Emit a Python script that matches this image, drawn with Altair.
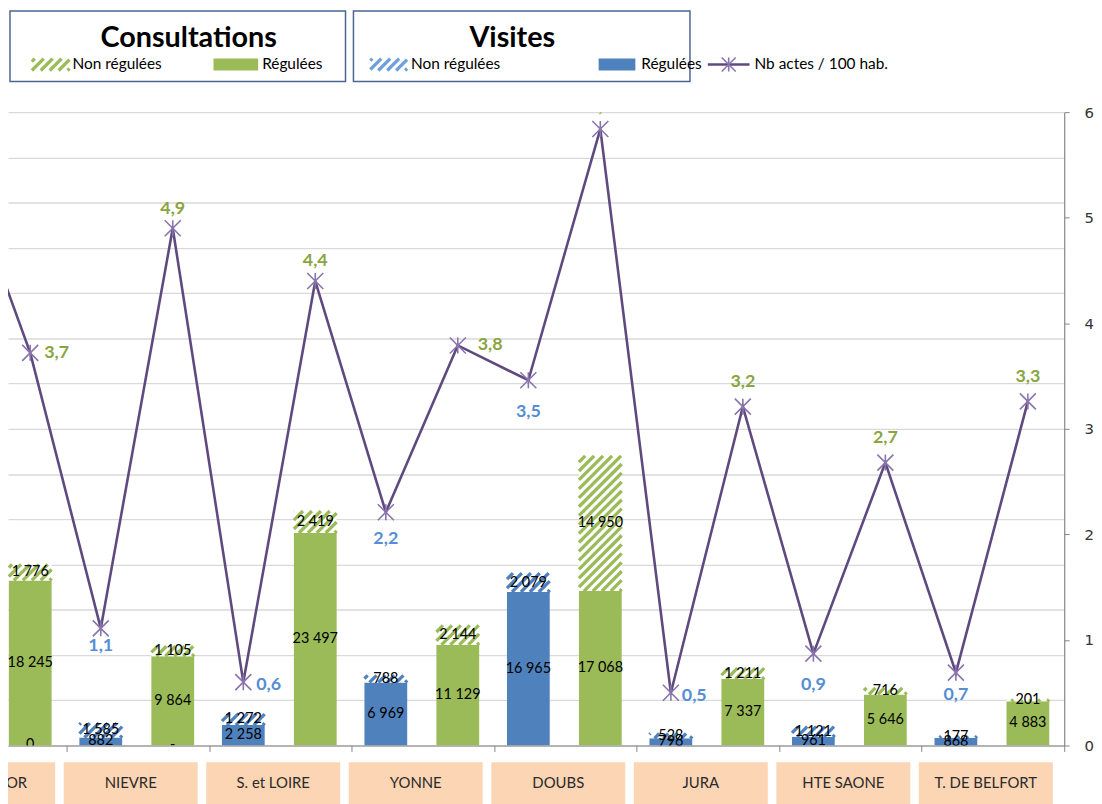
import altair as alt
import pandas as pd

# ---------------- data ----------------
categories = ["CÔTE D'OR", "NIEVRE", "S. et LOIRE", "YONNE", "DOUBS", "JURA", "HTE SAONE", "T. DE BELFORT"]
visites_regulees = [9500, 882, 2258, 6969, 16965, 796, 961, 868]
visites_non_regulees = [1200, 1585, 1272, 788, 2079, 528, 1121, 177]
consult_regulees = [18245, 9864, 23497, 11129, 17068, 7337, 5646, 4883]
consult_non_regulees = [1776, 1105, 2419, 2144, 14950, 1211, 716, 201]
actes_visites = [5.60, 1.11, 0.60, 2.21, 3.46, 0.50, 0.87, 0.69]
actes_consult = [3.72, 4.90, 4.40, 3.79, 5.84, 3.21, 2.68, 3.26]
empty_slot_labels = ["0", "-", "", "", "", "", "", ""]
right_axis_ticks = [0, 1, 2, 3, 4, 5, 6]
bar_grid_step = 5000
bar_max = 70000

# ---------------- layout / style ----------------
W, H = 1064, 638
X_MIN, X_MAX = 0.089, 7.5
OFF_V, OFF_C, BAR_W = -0.26, 0.245, 0.30
PX_X = W / (X_MAX - X_MIN)
PX_Y = H / bar_max

GREEN = "#9BBB59"
BLUE = "#4F81BD"
LINE = "#5F4A80"
MARKER = "#8A74AD"
LBL_BLUE = "#558ED5"
LBL_GREEN = "#8AA440"
PEACH = "#FCD5B4"
GRID = "#D9D9D9"
AXIS = "#868686"
BOXLINE = "#4A6591"
FONT = "Lato"

LABEL_OFFSETS = {
    ("V", 0): (0, 22, "center"), ("C", 0): (14, 0, "left"),
    ("V", 1): (0, 18, "center"), ("C", 1): (0, -19, "center"),
    ("V", 2): (13, 3, "left"), ("C", 2): (0, -20, "center"),
    ("V", 3): (0, 27, "center"), ("C", 3): (20, 0, "left"),
    ("V", 4): (0, 32, "center"), ("C", 4): (0, -22, "center"),
    ("V", 5): (11, 3, "left"), ("C", 5): (0, -25, "center"),
    ("V", 6): (0, 32, "center"), ("C", 6): (0, -25, "center"),
    ("V", 7): (0, 23, "center"), ("C", 7): (0, -25, "center"),
}


def fmt_int(v):
    return f"{v:,}".replace(",", " ")


def hatch_lines(x0, x1, y0, y1, period=9.0):
    w = (x1 - x0) * PX_X
    h = (y1 - y0) * PX_Y
    out = []
    c = -w + 2.0
    while c < h:
        u0 = max(0.0, -c)
        u1 = min(w, h - c)
        if u1 > u0:
            out.append((x0 + u0 / PX_X, x0 + u1 / PX_X, y0 + (u0 + c) / PX_Y, y0 + (u1 + c) / PX_Y))
        c += period
    return out


# ---------------- tables ----------------
bar_rows, hatch_rows = [], []
for k, cat in enumerate(categories):
    for kind, off, reg, non, col in [
        ("V", OFF_V, visites_regulees[k], visites_non_regulees[k], BLUE),
        ("C", OFF_C, consult_regulees[k], consult_non_regulees[k], GREEN),
    ]:
        xc = k + off
        x0, x1 = xc - BAR_W / 2, xc + BAR_W / 2
        bar_rows.append(dict(cat=cat, kind=kind, xc=xc, x0=x0, x1=x1, reg=reg, tot=reg + non, zero=0,
                             reg_mid=reg / 2, non_mid=reg + non / 2,
                             reg_lbl=fmt_int(reg), non_lbl=fmt_int(non), color=col))
        for (a, b, c, d) in hatch_lines(x0, x1, reg, reg + non):
            hatch_rows.append(dict(kind=kind, hx0=a, hx1=b, hy0=c, hy1=d))
bars = pd.DataFrame(bar_rows)
hatch = pd.DataFrame(hatch_rows)

cat_df = pd.DataFrame({"cat": categories, "k": list(range(len(categories)))})
cat_df["bx0"] = cat_df["k"] - 0.52
cat_df["bx1"] = cat_df["k"] + 0.42
cat_df["bxc"] = cat_df["k"] - 0.05

empty_df = pd.DataFrame({"lbl": empty_slot_labels, "x": [k + OFF_C for k in range(len(categories))], "y": 0})
empty_df = empty_df[empty_df["lbl"] != ""]

line_rows = []
for k in range(len(categories)):
    line_rows.append(dict(x=k + OFF_V, v=actes_visites[k], kind="V", k=k))
    line_rows.append(dict(x=k + OFF_C, v=actes_consult[k], kind="C", k=k))
line_df = pd.DataFrame(line_rows)
line_df["lbl"] = line_df["v"].map(lambda v: f"{v:.1f}".replace(".", ","))

xscale = alt.Scale(domain=[X_MIN, X_MAX], nice=False, zero=False)
yscale_bar = alt.Scale(domain=[0, bar_max], nice=False)
yscale_line = alt.Scale(domain=[0, 6], nice=False)

x_axis = alt.Axis(values=[k + 0.5 for k in range(len(categories))], labels=False, tickSize=6,
                  tickColor=AXIS, domainColor=AXIS, domainWidth=1.2, grid=False, title=None)
y_bar_axis = alt.Axis(values=list(range(0, bar_max + 1, bar_grid_step)), labels=False, ticks=False,
                      domain=False, grid=True, gridColor=GRID, gridWidth=1.3, title=None)
y_line_axis = alt.Axis(orient="right", values=right_axis_ticks, grid=False, tickSize=5, labelFont="DejaVu Sans",
                       labelFontSize=15, labelColor="#333333", domainColor=AXIS, domainWidth=1.2,
                       tickColor=AXIS, labelPadding=15, title=None)


def X(field):
    return alt.X(field, scale=xscale, axis=x_axis)


def YB(field):
    return alt.Y(field, scale=yscale_bar, axis=y_bar_axis)


def YL(field):
    return alt.Y(field, scale=yscale_line, axis=y_line_axis)


# ---------------- bar group ----------------
base_bars = alt.Chart(bars)
reg_bars = base_bars.mark_rect(clip=True).encode(
    x=X("x0:Q"), x2="x1:Q", y=YB("reg:Q"), y2="zero:Q",
    color=alt.Color("color:N", scale=None),
)
non_bg = base_bars.mark_rect(clip=True, color="white").encode(
    x=X("x0:Q"), x2="x1:Q", y=YB("tot:Q"), y2="reg:Q",
)
hatch_layer = alt.Chart(hatch).mark_rule(clip=True, strokeWidth=3.3).encode(
    x=X("hx0:Q"), x2="hx1:Q", y=YB("hy0:Q"), y2="hy1:Q",
    color=alt.Color("kind:N", scale=alt.Scale(domain=["V", "C"], range=[BLUE, GREEN]), legend=None),
)
reg_text = base_bars.mark_text(clip=True, font=FONT, fontSize=14.5, color="black", baseline="middle").encode(
    x=X("xc:Q"), y=YB("reg_mid:Q"), text="reg_lbl:N",
)
non_text = base_bars.mark_text(clip=True, font=FONT, fontSize=14.5, color="black", baseline="middle").encode(
    x=X("xc:Q"), y=YB("non_mid:Q"), text="non_lbl:N",
)
empty_text = alt.Chart(empty_df).mark_text(clip=True, font=FONT, fontSize=14.5, color="black",
                                           baseline="middle").encode(
    x=X("x:Q"), y=YB("y:Q"), text="lbl:N",
)
cat_boxes = alt.Chart(cat_df).mark_rect(color=PEACH).encode(
    x=X("bx0:Q"), x2="bx1:Q", y=alt.value(H + 17), y2=alt.value(H + 70),
)
cat_text = alt.Chart(cat_df).mark_text(font=FONT, fontSize=15, color="#2A2A2A", baseline="middle").encode(
    x=X("bxc:Q"), y=alt.value(H + 38), text="cat:N",
)
bar_group = alt.layer(reg_bars, cat_boxes, cat_text, non_bg, hatch_layer, reg_text, non_text, empty_text)

# ---------------- line group ----------------
ASTERISK = "M-1,-1L1,1M-1,1L1,-1M0,-1L0,1"
line_layer = alt.Chart(line_df).mark_line(clip=True, color=LINE, strokeWidth=2.6).encode(
    x=X("x:Q"), y=YL("v:Q"), order="x:Q",
)
pts = alt.Chart(line_df).mark_point(clip=True, shape=ASTERISK, size=260, filled=False, color=MARKER,
                                    strokeWidth=1.6, opacity=1).encode(
    x=X("x:Q"), y=YL("v:Q"),
)
lbl_layers = []
for (kind, k), (dx, dy, al) in LABEL_OFFSETS.items():
    lbl_layers.append(
        alt.Chart(line_df).transform_filter(
            (alt.datum.kind == kind) & (alt.datum.k == k)
        ).mark_text(clip=True, font=FONT, fontSize=18, fontWeight="bold", dx=dx, dy=dy, align=al,
                    baseline="middle", color=LBL_BLUE if kind == "V" else LBL_GREEN).encode(
            x=X("x:Q"), y=YL("v:Q"), text="lbl:N",
        )
    )
line_group = alt.layer(line_layer, pts, *lbl_layers)

# ---------------- legend (decoration) ----------------
dummy = pd.DataFrame({"d": [0]})


def d_rect(x, x2, y, y2, **kw):
    return alt.Chart(dummy).mark_rect(**kw).encode(x=alt.value(x), x2=alt.value(x2), y=alt.value(y), y2=alt.value(y2))


def d_text(txt, x, y, **kw):
    return alt.Chart(dummy).mark_text(text=txt, baseline="middle", **kw).encode(x=alt.value(x), y=alt.value(y))


def d_hatch(x0, x1, y0, y1, color, period=9.0):
    w, h = x1 - x0, y1 - y0
    out = []
    c = -w + 2.0
    while c < h:
        u0, u1 = max(0.0, -c), min(w, h - c)
        if u1 > u0:
            out.append(alt.Chart(dummy).mark_rule(color=color, strokeWidth=3.3).encode(
                x=alt.value(x0 + u0), x2=alt.value(x0 + u1),
                y=alt.value(y1 - (u0 + c)), y2=alt.value(y1 - (u1 + c))))
        c += period
    return out


legend_layers = [
    d_rect(2, 340, -102, -31, fill="white", stroke=BOXLINE, strokeWidth=1.5),
    d_rect(348, 687, -102, -31, fill="white", stroke=BOXLINE, strokeWidth=1.5),
    d_text("Consultations", 182, -75, font=FONT, fontSize=29, fontWeight="bold", color="black", align="center"),
    d_text("Visites", 508, -75, font=FONT, fontSize=29, fontWeight="bold", color="black", align="center"),
    *d_hatch(24, 62, -54, -42, GREEN),
    d_text("Non régulées", 65, -48, font=FONT, fontSize=15.5, color="black", align="left"),
    d_rect(207, 252, -54, -42, fill=GREEN),
    d_text("Régulées", 256, -48, font=FONT, fontSize=15.5, color="black", align="left"),
    *d_hatch(365, 402, -54, -42, "#6FA0DC"),
    d_text("Non régulées", 406, -48, font=FONT, fontSize=15.5, color="black", align="left"),
    d_rect(595, 632, -54, -42, fill=BLUE),
    d_text("Régulées", 638, -48, font=FONT, fontSize=15.5, color="black", align="left"),
    alt.Chart(dummy).mark_rule(color=LINE, strokeWidth=2.6).encode(
        x=alt.value(705), x2=alt.value(747), y=alt.value(-48)),
    alt.Chart(dummy).mark_point(shape=ASTERISK, size=200, filled=False, color=MARKER, strokeWidth=1.6,
                                opacity=1).encode(x=alt.value(726), y=alt.value(-48)),
    d_text("Nb actes / 100 hab.", 752, -48, font=FONT, fontSize=15.5, color="black", align="left"),
]
legend_group = alt.layer(*legend_layers)

chart = alt.layer(bar_group, line_group, legend_group).resolve_scale(
    y="independent", color="independent"
).properties(
    width=W, height=H,
    background="white",
    autosize=alt.AutoSizeParams(type="none"),
    padding={"left": 0, "top": 102, "right": 30, "bottom": 56},
).configure_view(stroke="transparent", strokeOpacity=0)

chart.save("out.html", embed_options={"renderer": "svg", "actions": False})
